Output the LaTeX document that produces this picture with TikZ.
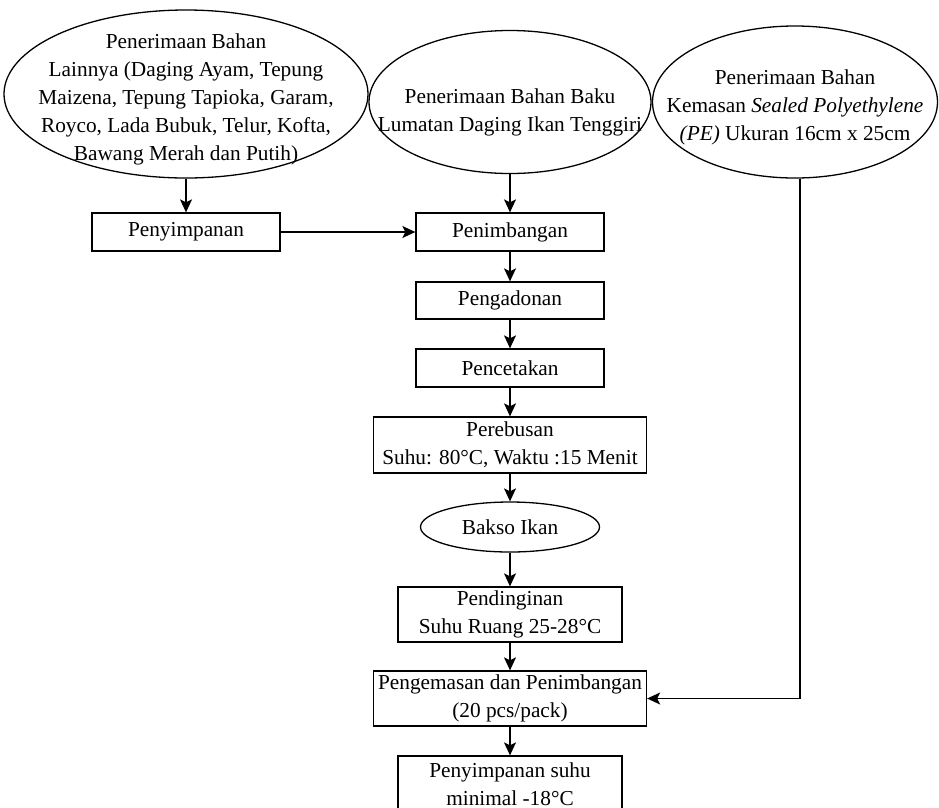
\documentclass[tikz,border=0pt]{standalone}
\usepackage{fontspec}
\setmainfont{Liberation Serif}
\usetikzlibrary{shapes.geometric,arrows.meta}

\begin{document}
\begin{tikzpicture}[x=1pt,y=-1pt,
    every node/.style={font=\fontsize{21.3}{28}\selectfont},
    kotak/.style={draw,rectangle,inner sep=0pt,align=center,line width=1.3pt},
    bulat/.style={draw,ellipse,inner sep=0pt,line width=1.3pt},
    panah/.style={-{Stealth[length=13pt,width=12pt,inset=3pt]},line width=1.4pt}]
        \useasboundingbox (0,0) rectangle (939,807);

        % penerimaan bahan
        \node[bulat,minimum width=364,minimum height=168] (lain) at (186,94) {};
        \node[align=center] (lainteks) at (186,99) {Penerimaan Bahan\\Lainnya (Daging Ayam, Tepung\\Maizena, Tepung Tapioka, Garam,\\Royco, Lada Bubuk, Telur, Kofta,\\Bawang Merah dan Putih)};
        \node[bulat,minimum width=282,minimum height=143] (baku) at (510,102) {};
        \node[align=center] (bakuteks) at (510,112) {Penerimaan Bahan Baku\\Lumatan Daging Ikan Tenggiri};
        \node[bulat,minimum width=285,minimum height=152] (kemasan) at (795,102) {};
        \node[align=center] (kemasanteks) at (795,107) {Penerimaan Bahan\\Kemasan \textit{Sealed Polyethylene}\\\textit{(PE)} Ukuran 16cm x 25cm};

        % proses
        \node[kotak,minimum width=188,minimum height=38] (simpan) at (186,232) {Penyimpanan};
        \node[kotak,minimum width=188,minimum height=38] (timbang) at (510,232) {Penimbangan};
        \node[kotak,minimum width=188,minimum height=37] (adon) at (510,300.5) {Pengadonan};
        \node[kotak,minimum width=188,minimum height=38] (cetak) at (510,368) {Pencetakan};
        \node[kotak,minimum width=273,minimum height=56] (rebus) at (510,445) {Perebusan\\Suhu: 80°C, Waktu :15 Menit};
        \node[bulat,minimum width=179,minimum height=50] (bakso) at (510,527) {Bakso Ikan};
        \node[kotak,minimum width=224,minimum height=55] (dingin) at (510,614.5) {Pendinginan\\Suhu Ruang 25-28°C};
        \node[kotak,minimum width=273,minimum height=55] (kemas) at (510,698.5) {Pengemasan dan Penimbangan\\(20 pcs/pack)};
        \node[kotak,minimum width=224,minimum height=56] (beku) at (510,784) {Penyimpanan suhu\\minimal -18°C};

        % panah
        \draw[panah] (lain) -- (simpan);
        \draw[panah] (simpan) -- (timbang);
        \draw[panah] (baku) -- (timbang);
        \foreach \a/\b in {timbang/adon,adon/cetak,cetak/rebus,rebus/bakso,bakso/dingin,dingin/kemas,kemas/beku}
            \draw[panah] (\a) -- (\b);
        \draw[panah] ([xshift=5pt]kemasan.south) |- (kemas);
\end{tikzpicture}
\end{document}
